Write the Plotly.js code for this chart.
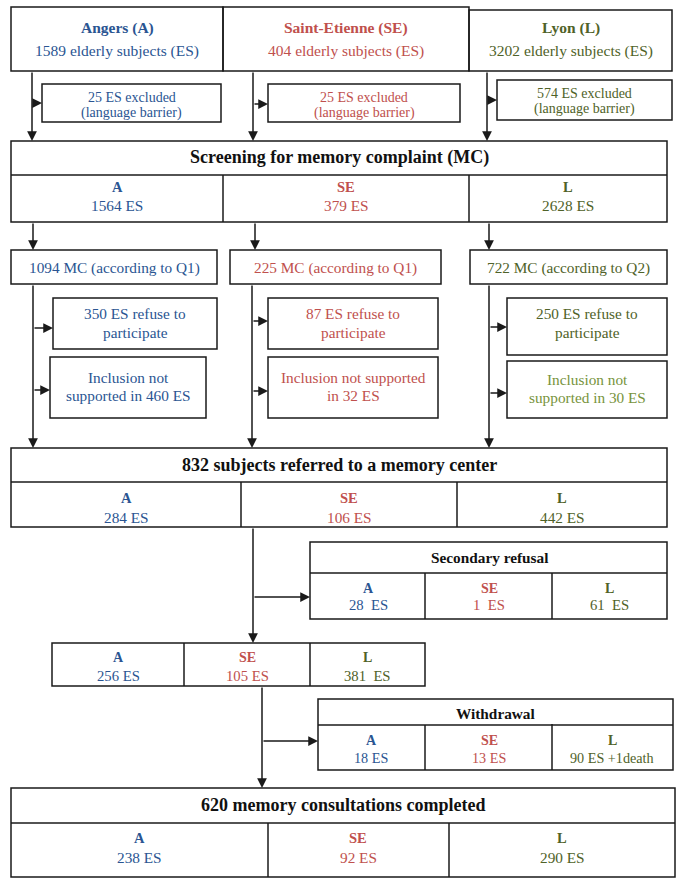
<!DOCTYPE html>
<html>
<head>
<meta charset="utf-8">
<script src="https://cdn.plot.ly/plotly-3.0.1.min.js"></script>
<style>html,body{margin:0;padding:0;background:#fff;}#chart{width:685px;height:883px;}</style>
</head>
<body>
<div id="chart"></div>
<script>
// ---- data ----
const centers = ["Angers (A)", "Saint-Etienne (SE)", "Lyon (L)"];
const codes = ["A", "SE", "L"];
const elderly = [1589, 404, 3202];
const excludedLanguage = [25, 25, 574];
const screened = [1564, 379, 2628];
const memoryComplaint = [1094, 225, 722];
const questionnaire = ["Q1", "Q1", "Q2"];
const refused = [350, 87, 250];
const notSupported = [460, 32, 30];
const referred = [284, 106, 442];
const secondaryRefusal = [28, 1, 61];
const afterRefusal = [256, 105, 381];
const withdrawal = [18, 13, 90];
const deaths = [0, 0, 1];
const completed = [238, 92, 290];
const totalReferred = 832;
const totalCompleted = 620;

// ---- style ----
const F = "'Liberation Serif', 'DejaVu Serif', 'Times New Roman', serif";
const COL = ["#2A5592", "#C0504D", "#4F6228"];
const LIGHTGREEN = "#77933C";
const shapes = [], ann = [];
function box(x0, y0, x1, y1) {
  shapes.push({type: 'rect', xref: 'x', yref: 'y', x0, y0, x1, y1, line: {color: '#1a1a1a', width: 1.5}, fillcolor: 'rgba(0,0,0,0)'});
}
function line(x0, y0, x1, y1) {
  shapes.push({type: 'line', xref: 'x', yref: 'y', x0, y0, x1, y1, line: {color: '#1a1a1a', width: 1.5}});
}
function txt(x, y, s, color, size, bold) {
  ann.push({x, y, xref: 'x', yref: 'y', text: bold ? '<b>' + s + '</b>' : s, showarrow: false,
    font: {family: F, size, color}, xanchor: 'center', yanchor: 'middle'});
}
function arrow(ax, ay, x, y) {
  ann.push({x, y, ax, ay, xref: 'x', yref: 'y', axref: 'x', ayref: 'y', text: '', showarrow: true,
    arrowhead: 2, arrowsize: 1.3, arrowwidth: 1.5, arrowcolor: '#1a1a1a', standoff: 0, startstandoff: 0});
}
const nb = '\u00A0';
const HEAD = 18, VAL = 15.3, LET = 14.5, SVAL = 14.7, SLET = 14;

// ---- top boxes ----
const topX = [[11, 223], [223, 469], [469, 672]];
const topY0 = [7, 7, 10];
for (let i = 0; i < 3; i++) {
  box(topX[i][0], topY0[i], topX[i][1], 71);
  const cx = (topX[i][0] + topX[i][1]) / 2;
  txt(cx, 28, centers[i], COL[i], 15.5, true);
  txt(cx, 51, elderly[i] + ' elderly subjects (ES)', COL[i], 15.5, false);
}
// exclusion
const trunkA = [32, 253, 487];
const exBox = [[42, 221, 84, 122], [268, 460, 84, 122], [497, 672, 80, 120]];
const exArrowY = [103, 104, 100];
for (let i = 0; i < 3; i++) {
  arrow(trunkA[i], 71, trunkA[i], 141);
  const b = exBox[i];
  box(b[0], b[2], b[1], b[3]);
  arrow(trunkA[i], exArrowY[i], b[0], exArrowY[i]);
  const cx = (b[0] + b[1]) / 2;
  txt(cx, b[2] + 13, excludedLanguage[i] + ' ES excluded', COL[i], 14, false);
  txt(cx, b[2] + 29, '(language barrier)', COL[i], 14, false);
}

// ---- screening ----
box(11, 141, 667, 222);
line(11, 175, 667, 175);
line(223, 175, 223, 222);
line(469, 175, 469, 222);
txt(339, 157, 'Screening for memory complaint (MC)', '#111', HEAD, true);
const scrC = [117, 346, 568];
for (let i = 0; i < 3; i++) {
  txt(scrC[i], 187, codes[i], COL[i], LET, true);
  txt(scrC[i], 205, screened[i] + ' ES', COL[i], VAL, false);
}

// ---- MC ----
const trunkB = [33, 255, 489];
const mcX = [[11, 217], [230, 441], [470, 667]];
for (let i = 0; i < 3; i++) {
  arrow(trunkB[i], 222, trunkB[i], 250);
  box(mcX[i][0], 250, mcX[i][1], 284);
  txt((mcX[i][0] + mcX[i][1]) / 2, 268, memoryComplaint[i] + ' MC (according to ' + questionnaire[i] + ')', COL[i], VAL, false);
}
const trunkC = [33, 252, 489];
const refBox = [[53, 217, 298, 349], [268, 438, 298, 349], [507, 667, 298, 355]];
const refArrowY = [328, 321, 327];
const incBox = [[50, 206, 357, 418], [268, 438, 357, 418], [507, 667, 361, 418]];
const incArrowY = [390, 391, 393];
const incLines = [
  ['Inclusion not', 'supported in ' + notSupported[0] + ' ES'],
  ['Inclusion not supported', 'in ' + notSupported[1] + ' ES'],
  ['Inclusion not', 'supported in ' + notSupported[2] + ' ES']
];
const incCol = [COL[0], COL[1], LIGHTGREEN];
for (let i = 0; i < 3; i++) {
  arrow(trunkC[i], 284, trunkC[i], 448);
  const r = refBox[i];
  box(r[0], r[2], r[1], r[3]);
  arrow(trunkC[i], refArrowY[i], r[0], refArrowY[i]);
  const rc = (r[0] + r[1]) / 2;
  txt(rc, 313, refused[i] + ' ES refuse to', COL[i], VAL, false);
  txt(rc, 332, 'participate', COL[i], VAL, false);
  const b = incBox[i];
  box(b[0], b[2], b[1], b[3]);
  arrow(trunkC[i], incArrowY[i], b[0], incArrowY[i]);
  const bc = (b[0] + b[1]) / 2;
  const my = (b[2] + b[3]) / 2;
  txt(bc, my - 10, incLines[i][0], incCol[i], VAL, false);
  txt(bc, my + 8, incLines[i][1], incCol[i], VAL, false);
}

// ---- referred ----
box(11, 448, 667, 527);
line(11, 482, 667, 482);
line(241, 482, 241, 527);
line(457, 482, 457, 527);
txt(339, 465, totalReferred + ' subjects referred to a memory center', '#111', HEAD, true);
const refC = [126, 349, 562];
for (let i = 0; i < 3; i++) {
  txt(refC[i], 498, codes[i], COL[i], LET, true);
  txt(refC[i], 517, referred[i] + ' ES', COL[i], VAL, false);
}

// ---- secondary refusal ----
arrow(253, 527, 253, 643);
arrow(253, 597, 310, 597);
box(310, 542, 667, 619);
line(310, 573, 667, 573);
line(425, 573, 425, 619);
line(552, 573, 552, 619);
txt(489, 557, 'Secondary refusal', '#111', 15.3, true);
const srC = [368, 489, 609];
for (let i = 0; i < 3; i++) {
  txt(srC[i], 588, codes[i], COL[i], SLET, true);
  txt(srC[i], 605, secondaryRefusal[i] + nb + nb + 'ES', COL[i], SVAL, false);
}

// ---- after refusal ----
box(52, 643, 425, 686);
line(184, 643, 184, 686);
line(310, 643, 310, 686);
const arC = [118, 247, 367];
for (let i = 0; i < 3; i++) {
  txt(arC[i], 657, codes[i], COL[i], SLET, true);
  txt(arC[i], 676, afterRefusal[i] + (i === 2 ? nb + nb : ' ') + 'ES', COL[i], SVAL, false);
}

// ---- withdrawal ----
arrow(262, 686, 262, 788);
arrow(262, 741, 318, 741);
box(318, 699, 673, 770);
line(318, 725, 673, 725);
line(425, 725, 425, 770);
line(552, 724, 552, 770);
txt(495, 713, 'Withdrawal', '#111', 15.3, true);
const wdC = [371, 489, 612];
for (let i = 0; i < 3; i++) {
  txt(wdC[i], 740, codes[i], COL[i], SLET, true);
  const s = withdrawal[i] + ' ES' + (deaths[i] ? ' +' + deaths[i] + 'death' : '');
  txt(wdC[i], 758, s, COL[i], 14.2, false);
}

// ---- completed ----
box(11, 788, 675, 877);
line(11, 823, 675, 823);
line(268, 823, 268, 877);
line(449, 823, 449, 877);
txt(343, 805, totalCompleted + ' memory consultations completed', '#111', HEAD, true);
const cpC = [139, 358, 562];
for (let i = 0; i < 3; i++) {
  txt(cpC[i], 838, codes[i], COL[i], LET, true);
  txt(cpC[i], 857, completed[i] + ' ES', COL[i], VAL, false);
}

const layout = {
  width: 685, height: 883,
  margin: {l: 0, r: 0, t: 0, b: 0},
  paper_bgcolor: '#fff', plot_bgcolor: '#fff',
  xaxis: {range: [0, 685], visible: false, fixedrange: true},
  yaxis: {range: [883, 0], visible: false, fixedrange: true},
  shapes: shapes, annotations: ann, showlegend: false
};
Plotly.newPlot('chart', [], layout, {staticPlot: true, displayModeBar: false});
</script>
</body>
</html>
